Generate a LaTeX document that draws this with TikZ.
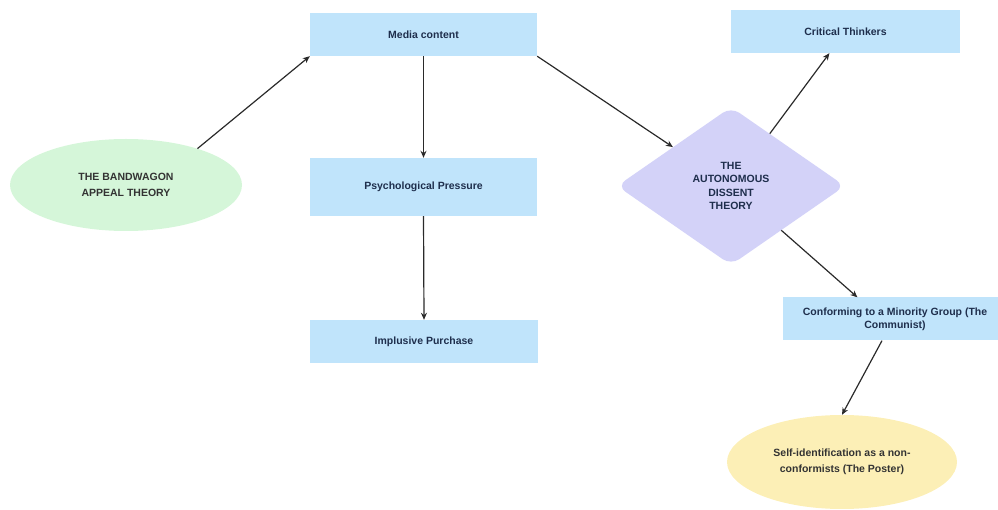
\documentclass[tikz,border=0pt]{standalone}
\usepackage{fontspec}
\setmainfont{Liberation Sans}
\usetikzlibrary{shapes.geometric,arrows.meta,calc}
\definecolor{boxblue}{HTML}{C0E4FB}
\definecolor{elgreen}{HTML}{D5F6D9}
\definecolor{dialav}{HTML}{D3D2F8}
\definecolor{elyellow}{HTML}{FCEFB6}
\definecolor{navytext}{HTML}{1E2E4C}
\definecolor{arrowcol}{HTML}{2A2A2A}
\tikzset{
  lbl/.style={font=\bfseries\fontsize{10.5}{14}\selectfont, align=center},
  bluebox/.style={lbl, rectangle, fill=boxblue, text=navytext, inner sep=0pt},
  ovalnode/.style={lbl, ellipse, inner sep=0pt, font=\bfseries\fontsize{10.5}{16}\selectfont},
  conn/.style={draw=arrowcol, line width=1.2pt, -{Stealth[length=7pt,width=6pt]}},
}
\begin{document}
\begin{tikzpicture}[x=1pt,y=-1pt]
\path[use as bounding box] (0,0) rectangle (998,510);
\begin{scope}
\clip (0,0) rectangle (998,510);
\node[ovalnode, fill=elgreen, text=black!80, minimum width=232, minimum height=92] (bw) at (126,185) {THE BANDWAGON\\APPEAL THEORY};
\node[bluebox, minimum width=227, minimum height=43] (media) at (423.5,34.5) {Media content};
\node[bluebox, minimum width=227, minimum height=58] (psych) at (423.5,187) {Psychological Pressure};
\node[bluebox, minimum width=228, minimum height=43] (impl) at (424,341.5) {Implusive Purchase};
\node[lbl, diamond, fill=dialav, text=navytext, rounded corners=10pt, inner sep=0pt, minimum width=228, minimum height=158, font=\bfseries\fontsize{10.5}{13.5}\selectfont] (diam) at (731,186) {THE\\AUTONOMOUS\\DISSENT\\THEORY};
\node[bluebox, minimum width=229, minimum height=43] (crit) at (845.5,31.5) {Critical Thinkers};
\node[bluebox, minimum width=224, minimum height=43, font=\bfseries\fontsize{10.5}{13}\selectfont] (conf) at (895,319) {Conforming to a Minority Group (The\\Communist)};
\node[ovalnode, fill=elyellow, text=black!80, minimum width=230, minimum height=94] (self) at (842,462) {Self-identification as a non-\\conformists (The Poster)};
\draw[conn] (bw.27) -- (media.south west);
\draw[conn] (media.south) -- (psych.north);
\draw[conn] (psych.south) -- (impl.north);
\draw[conn] (media.south east) -- (diam);
\draw[conn] (diam) -- (crit);
\draw[conn] (diam) -- (conf.150);
\draw[conn] (conf.239) -- (self.north);
\end{scope}
\end{tikzpicture}
\end{document}
